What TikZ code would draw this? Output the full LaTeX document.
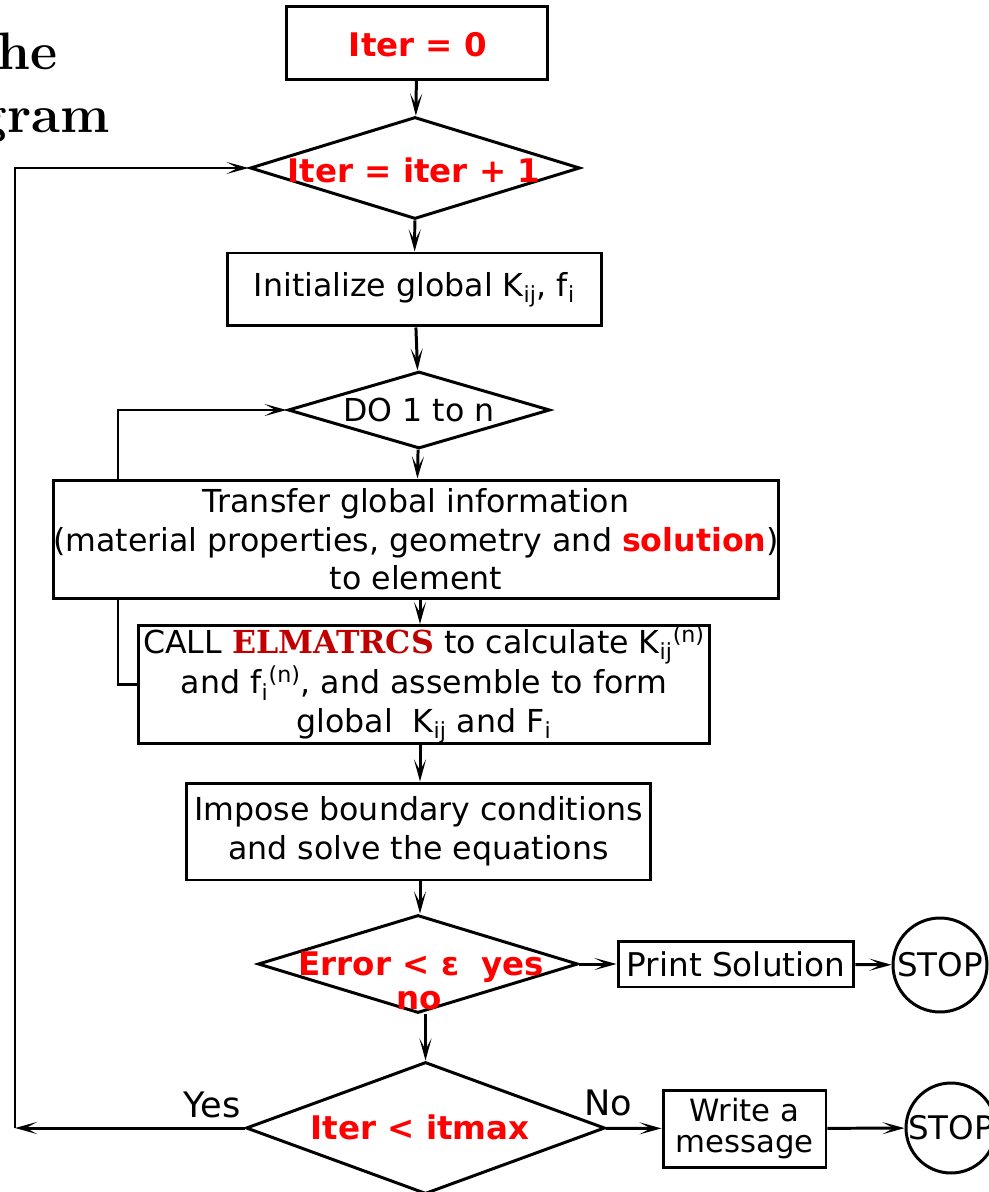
\documentclass[tikz,border=0pt]{standalone}
\usepackage{fontspec}
\setsansfont{DejaVu Sans}
\newfontfamily\elmfont{DejaVu Serif}
\usepackage{tikz}
\usetikzlibrary{shapes.geometric,arrows.meta,positioning,backgrounds}
\definecolor{darkred}{RGB}{192,0,0}

\begin{document}
\begin{tikzpicture}[x=0.02cm,y=-0.02cm,
	font=\sffamily\fontsize{18}{22}\selectfont,
	flow/.style={line width=1.7pt,-{Stealth[length=4.4mm,width=2.4mm,inset=2.2mm]}},
	box/.style={draw,line width=1.7pt,fill=white,align=center,inner sep=0pt},
	decision/.style={draw,line width=1.7pt,diamond,fill=white,inner sep=0pt},
	redtxt/.style={text=red,font=\sffamily\bfseries\fontsize{18.5}{20}\selectfont},
	endnode/.style={draw,line width=1.7pt,circle,fill=white,inner sep=0pt,minimum size=18.8mm,
		font=\sffamily\fontsize{18.5}{22}\selectfont}]
	\useasboundingbox (0,0) rectangle (989,1192);
	
	% title, cut off on the left
	\node[anchor=base east,font=\rmfamily\bfseries\fontsize{30}{36}\selectfont] (title1) at (64,70) {he};
	\node[anchor=base east,font=\rmfamily\bfseries\fontsize{30}{36}\selectfont] (title2) at (116,133) {gram};
	
	% main column
	\node[box,minimum width=52.4mm,minimum height=14.6mm] (start) at (417,43) {};
	\node[redtxt] (startlbl) at (418,45) {Iter = 0};
	\node[decision,minimum width=66mm,minimum height=20.4mm] (iterdec) at (415,168) {};
	\node[redtxt] (iterlbl) at (414,170) {Iter = iter + 1};
	\node[box,minimum width=75mm,minimum height=14.6mm] (init) at (414.5,289.5)
		{Initialize global K\textsubscript{ij}, f\textsubscript{i}};
	\node[decision,minimum width=52.4mm,minimum height=15.4mm] (dodec) at (419,410) {};
	\node (dolbl) at (dodec) {DO 1 to n};
	\node[box,minimum width=145.2mm,minimum height=23.8mm] (transfer) at (416,539.5)
		{Transfer global information\\(material properties, geometry and {\color{red}\bfseries solution})\\to element};
	\node[box,minimum width=114.4mm,minimum height=23mm] (call) at (424,684.5)
		{CALL {\elmfont\bfseries\color{darkred}ELMATRCS} to calculate K\textsubscript{ij}\textsuperscript{(n)}\\
		 and f\textsubscript{i}\textsuperscript{(n)}, and assemble to form\\
		 global~ K\textsubscript{ij} and F\textsubscript{i}};
	\node[box,minimum width=93mm,minimum height=19.4mm] (impose) at (418.5,831.5)
		{Impose boundary conditions\\and solve the equations};
	\node[decision,minimum width=64mm,minimum height=19.6mm] (errdec) at (418,964) {};
	\node[box,minimum width=47.2mm,minimum height=9.2mm,font=\sffamily\fontsize{18.6}{22}\selectfont] (print) at (736,964) {Print Solution};
	\node[endnode] (stop1) at (940,965) {STOP};
	\node[decision,minimum width=71.8mm,minimum height=26.4mm] (maxdec) at (425.5,1128) {};
	\node[redtxt] (maxlbl) at (420,1127) {Iter < itmax};
	\node[box,minimum width=32.6mm,minimum height=15.4mm,font=\sffamily\fontsize{17.5}{18}\selectfont] (write) at (744.5,1128.5) {Write a\\message};
	\node[endnode,minimum size=18mm] (stop2) at (951,1128) {STOP};
	
	\draw[flow] (start) -- (iterdec);
	\draw[flow] (iterdec) -- (init);
	\draw[flow] (init) -- (dodec);
	\draw[flow] (dodec) -- (transfer);
	\draw[flow] (transfer.south -| 420,0) -- (call.north -| 420,0);
	\draw[flow] (call.south -| 420,0) -- (impose.north -| 420,0);
	\draw[flow] (impose.south -| 420,0) -- (errdec.north -| 420,0);
	\draw[flow] (errdec.south -| maxdec.north) -- (maxdec.north);
	\draw[flow] (errdec) -- (print);
	\draw[flow] (print) -- (stop1);
	\draw[flow] (maxdec) -- (write);
	\draw[flow] (write) -- (stop2);
	
	% labels of the decisions
	\node[redtxt,anchor=base] (errlbl) at (379,975) {Error < ε};
	\node[redtxt,anchor=base] (yeslbl) at (513,975) {yes};
	\node[redtxt,anchor=base] (nolbl) at (419,1009) {no};
	\node[font=\sffamily\fontsize{20}{22}\selectfont] (yestxt) at (212,1105) {Yes};
	\node[font=\sffamily\fontsize{20}{22}\selectfont] (notxt) at (608,1103) {No};
	
	% outer loop
	\coordinate (backcorner) at (15,1128);
	\draw[flow] (maxdec.west) -- (backcorner);
	\draw[flow] (backcorner) |- (iterdec.west);
	
	% inner loop, behind the transfer box
	\coordinate (loopcorner) at (118,684.5);
	\begin{pgfonlayer}{background}
		\draw[flow] (call.west) -- (loopcorner) |- (dodec.west);
	\end{pgfonlayer}
\end{tikzpicture}
\end{document}
